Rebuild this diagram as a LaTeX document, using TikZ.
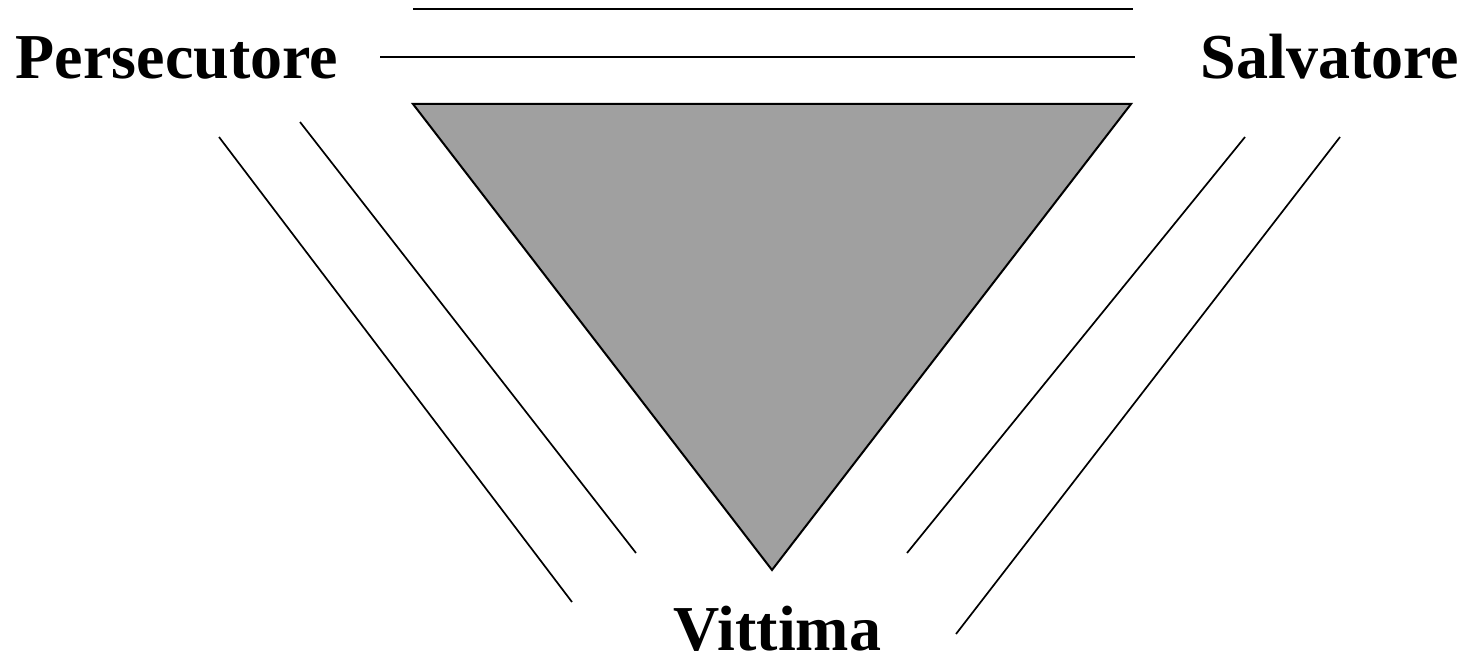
\documentclass[tikz,border=0pt]{standalone}
\usepackage{fontspec}
\setmainfont{Liberation Serif}
\usetikzlibrary{calc}
\definecolor{trigray}{HTML}{A0A0A0}

\begin{document}
\begin{tikzpicture}[x=1pt, y=-1pt, line width=1.7pt]
            \useasboundingbox (0,0) rectangle (1472,658);
            \tikzset{role/.style={anchor=base west, inner sep=0pt, font=\fontsize{64}{72}\selectfont\bfseries}}

            \coordinate (T1) at (413, 104);
            \coordinate (T2) at (1131, 104);
            \coordinate (T3) at (772, 570);

            \draw[fill=trigray, line width=2pt] (T1) -- (T2) -- (T3) -- cycle;

            % lines above
            \draw (413, 9) -- (1133, 9);
            \draw (380, 57) -- (1135, 57);

            % lines on the left
            \draw (219, 137) -- (572, 602);
            \draw (300, 122) -- (636, 553);

            % lines on the right
            \draw (1245, 137) -- (907, 553);
            \draw (1340, 137) -- (956, 634);

            \node[role] (pers) at (15, 79) {Persecutore};
            \node[role] (salv) at (1200, 79) {Salvatore};
            \node[role] (vitt) at (673, 650) {Vittima};
        \end{tikzpicture}
\end{document}
